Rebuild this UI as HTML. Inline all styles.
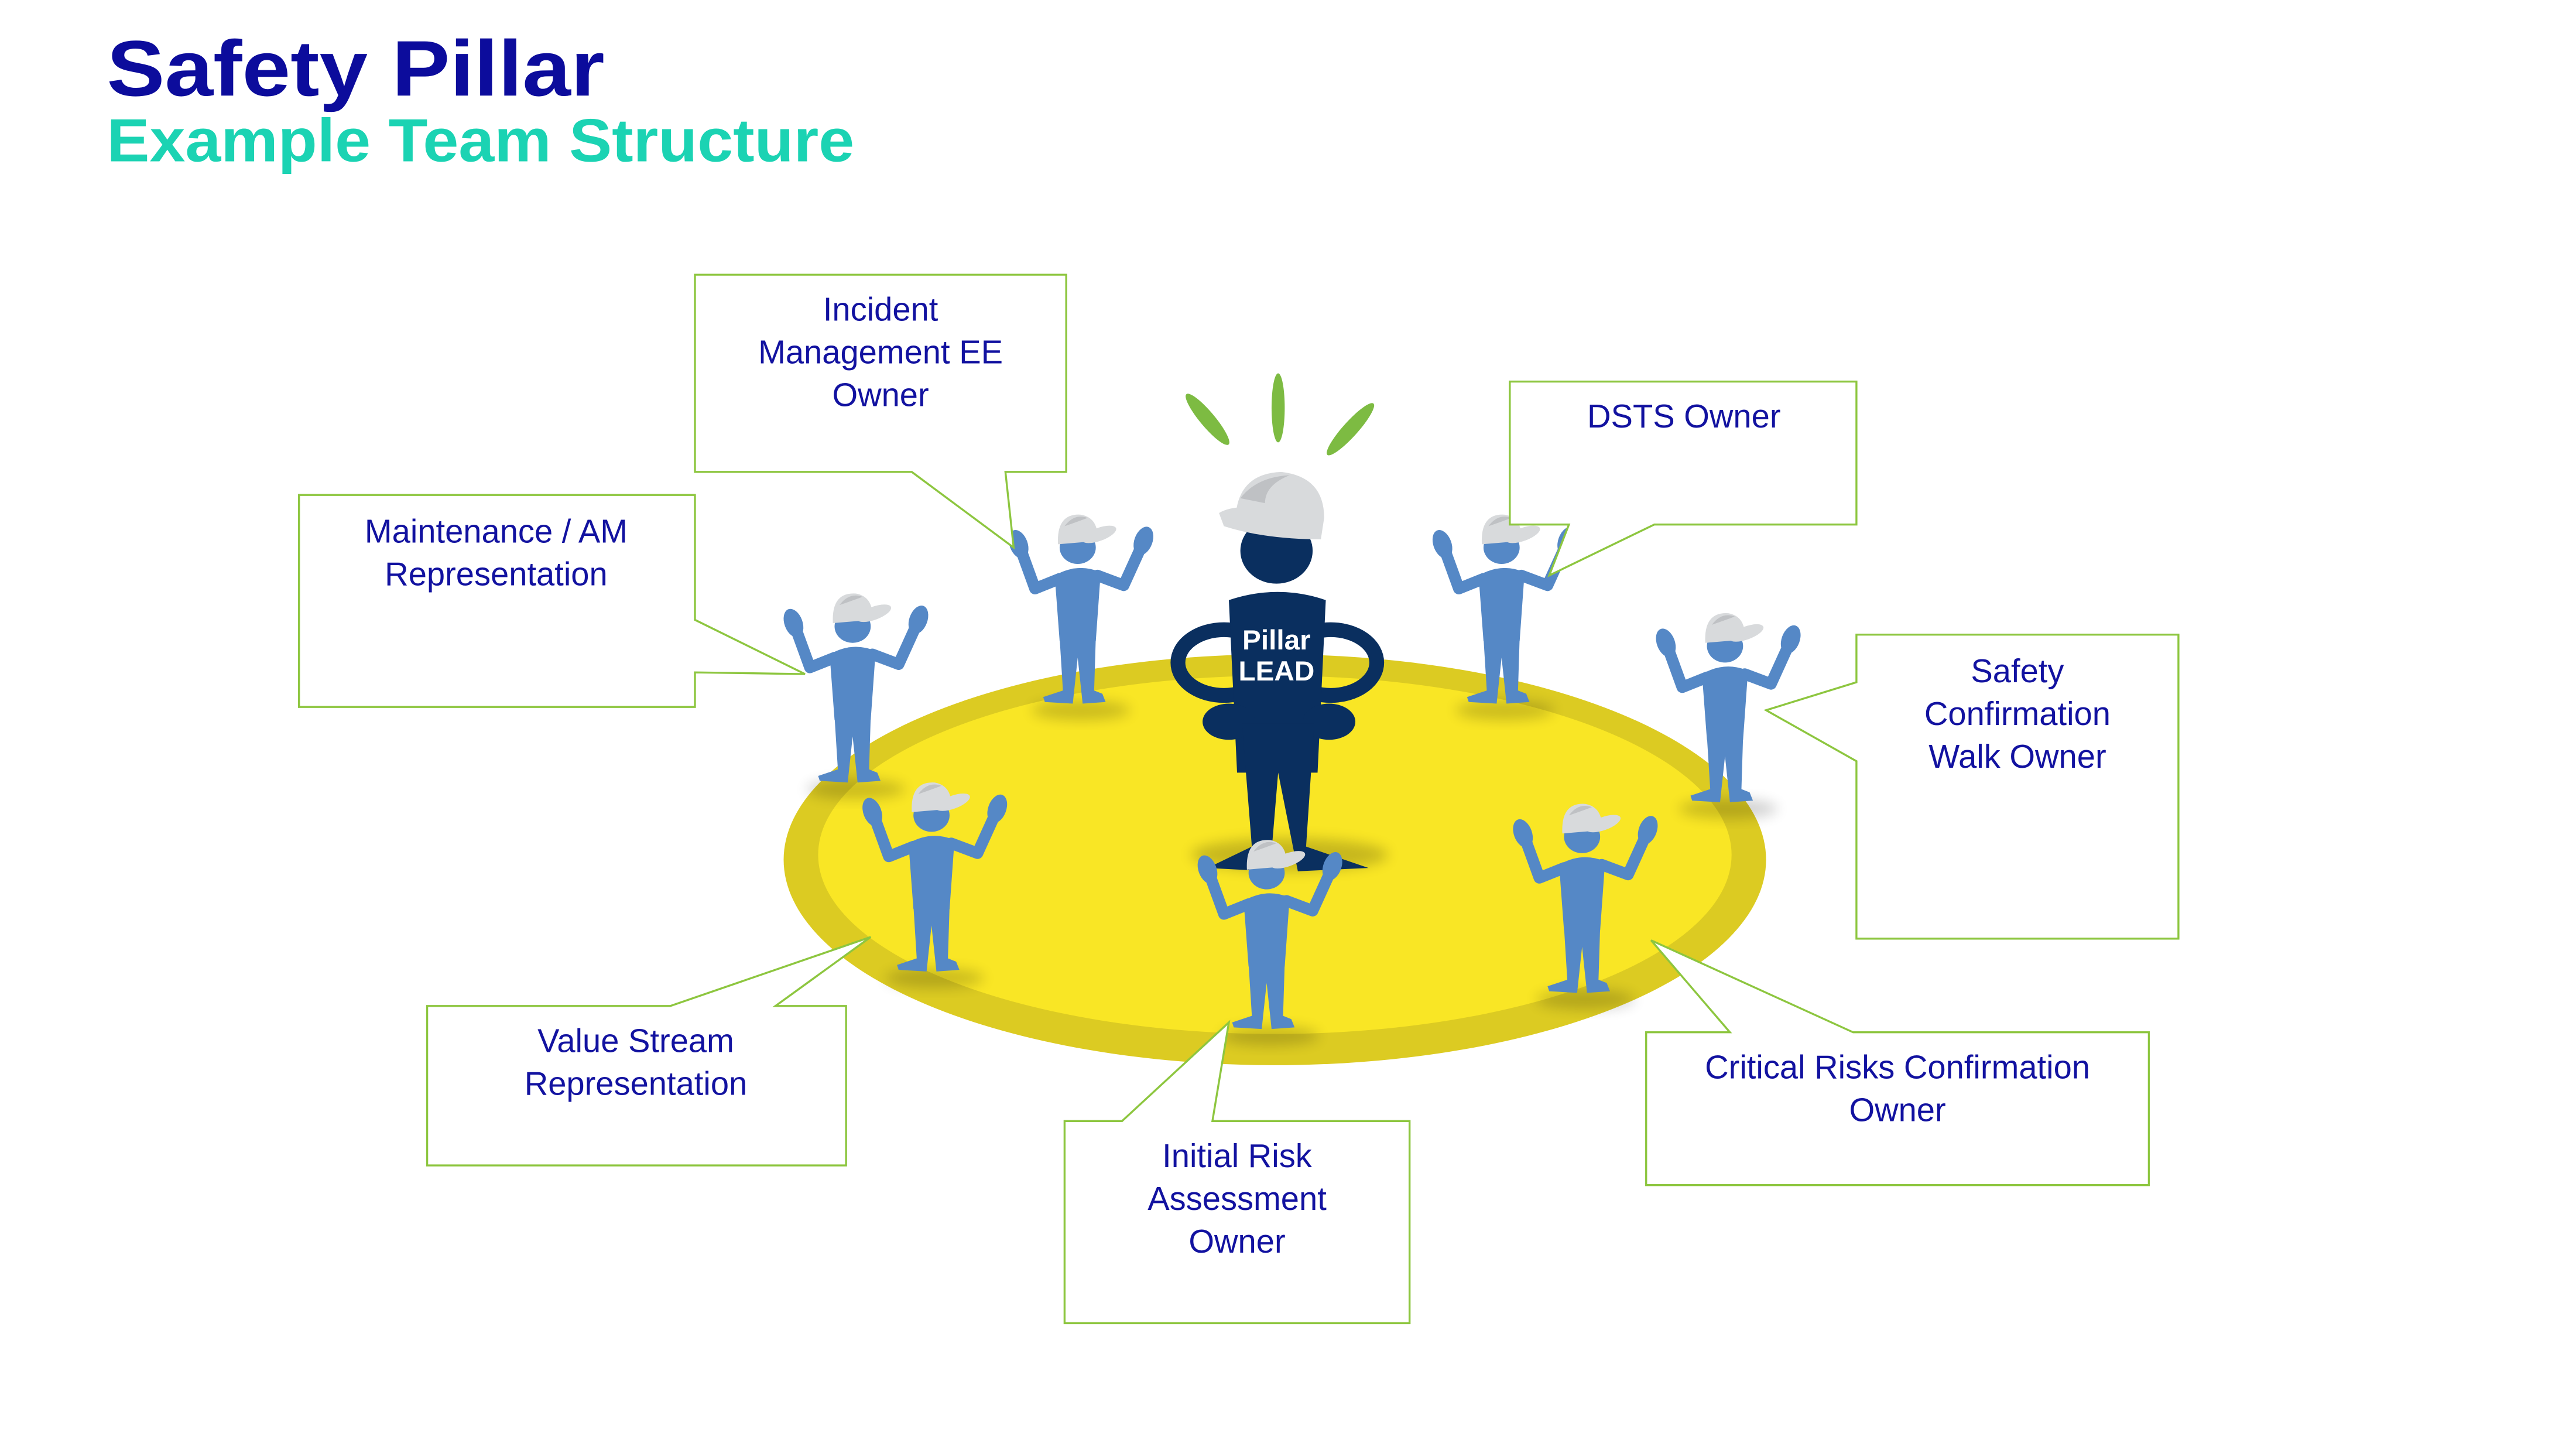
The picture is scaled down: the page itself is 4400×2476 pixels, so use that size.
<!DOCTYPE html>
<html><head><meta charset="utf-8">
<style>
html,body{margin:0;padding:0;background:#fff;}
svg{display:block;}
text{font-family:"Liberation Sans",Arial,sans-serif;}
</style></head>
<body>
<svg xmlns="http://www.w3.org/2000/svg" width="4400" height="2476" viewBox="0 0 1568 882">
<defs>
<filter id="bl" x="-50%" y="-50%" width="200%" height="200%"><feGaussianBlur stdDeviation="4"/></filter>
<g id="fig">
 <ellipse cx="2" cy="100" rx="30" ry="6" fill="#000" opacity="0.18" filter="url(#bl)"/>
 <path d="M-11,20 L-26,26 L-34,4 M12,18 L28,24 L38,2" stroke="#5588c6" stroke-width="7" fill="none" stroke-linecap="round" stroke-linejoin="round"/>
 <ellipse cx="-36" cy="-1" rx="5.5" ry="9" fill="#5588c6" transform="rotate(-20 -36 -1)"/>
 <ellipse cx="40" cy="-3" rx="5.5" ry="9" fill="#5588c6" transform="rotate(20 40 -3)"/>
 <ellipse cx="0" cy="1" rx="11" ry="10" fill="#5588c6"/>
 <path d="M-14,18 Q0,10 14,16 L11,58 L-11,58 Z" fill="#5588c6"/>
 <path d="M-11,56 L-9,88 L-21,92 L-20,95 L-3,96 L0,68 L3,96 L17,95 L15,90 L10,88 L11,56 Z" fill="#5588c6"/>
 <path d="M-12,-1 Q-13,-20 2,-19 Q13,-17 12,-3 Z" fill="#d8dadc"/>
 <path d="M-8,-12 Q-2,-20 6,-17 Q-2,-14 -8,-12 Z" fill="#bfc1c4"/>
 <ellipse cx="13" cy="-7" rx="11" ry="4" fill="#d8dadc" transform="rotate(-20 13 -7)"/>
</g>
</defs>

<text x="65" y="58" font-size="48" font-weight="bold" fill="#0c0c9c" textLength="303" lengthAdjust="spacingAndGlyphs">Safety Pillar</text>
<text x="65" y="98" font-size="37" font-weight="bold" fill="#1bd3b3" textLength="455" lengthAdjust="spacingAndGlyphs">Example Team Structure</text>

<ellipse cx="776" cy="523" rx="299" ry="125" fill="#dccb22"/>
<ellipse cx="776" cy="520" rx="278" ry="109" fill="#f9e625"/>

<ellipse cx="735" cy="255" rx="4.5" ry="20" fill="#7dbb42" transform="rotate(-40 735 255)"/>
<ellipse cx="778" cy="248" rx="4" ry="21" fill="#7dbb42"/>
<ellipse cx="822" cy="261" rx="4.5" ry="21" fill="#7dbb42" transform="rotate(42 822 261)"/>

<use href="#fig" x="519" y="380"/>
<use href="#fig" x="656" y="332"/>
<use href="#fig" x="914" y="332"/>
<use href="#fig" x="1050" y="392"/>

<ellipse cx="785" cy="520" rx="60" ry="10" fill="#000" opacity="0.2" filter="url(#bl)"/>
<ellipse cx="745" cy="403" rx="28" ry="20" fill="none" stroke="#0a2f5f" stroke-width="9"/>
<ellipse cx="810" cy="403" rx="28" ry="20" fill="none" stroke="#0a2f5f" stroke-width="9"/>
<path d="M748,365 Q778,355 807,365 L802,470 L753,470 Z" fill="#0a2f5f"/>
<ellipse cx="748" cy="439" rx="16" ry="11" fill="#0a2f5f"/>
<ellipse cx="809" cy="439" rx="16" ry="11" fill="#0a2f5f"/>
<path d="M756,440 L800,440 L795,515 L833,528 L790,530 L778,470 L773,530 L735,528 L762,515 Z" fill="#0a2f5f"/>
<ellipse cx="777" cy="335" rx="22" ry="20" fill="#0a2f5f"/>
<path d="M752,318 Q752,288 780,287 Q806,290 806,315 L804,328 Z" fill="#d8dadc"/>
<path d="M755,303 Q765,290 785,289 Q770,295 770,306 Z" fill="#bfc1c4"/>
<path d="M742,312 Q752,306 775,310 L804,318 L804,328 Q770,328 745,320 Z" fill="#d8dadc"/>
<text x="777" y="395" font-size="17" font-weight="bold" fill="#fff" text-anchor="middle">Pillar</text>
<text x="777" y="414" font-size="17" font-weight="bold" fill="#fff" text-anchor="middle">LEAD</text>

<use href="#fig" x="567" y="495"/>
<use href="#fig" x="963" y="508"/>
<use href="#fig" x="771" y="530"/>

<g fill="#fff" stroke="#8dc63f" stroke-width="1.2">
 <path d="M423,167 H649 V287 H612 L617,333 L555,287 H423 Z"/>
 <path d="M182,301 H423 V377 L490,410 L423,409 V430 H182 Z"/>
 <path d="M919,232 H1130 V319 H1007 L943,350 L955,319 H919 Z"/>
 <path d="M1130,386 H1326 V571 H1130 V463 L1075,432 L1130,415 Z"/>
 <path d="M260,612 H408 L530,570 L472,612 H515 V709 H260 Z"/>
 <path d="M648,682 H683 L748,622 L738,682 H858 V805 H648 Z"/>
 <path d="M1002,628 H1053 L1005,572 L1128,628 H1308 V721 H1002 Z"/>
</g>

<g font-size="20" fill="#1212a0" text-anchor="middle">
 <text x="536" y="195">Incident</text>
 <text x="536" y="221">Management EE</text>
 <text x="536" y="247">Owner</text>
 <text x="302" y="330">Maintenance / AM</text>
 <text x="302" y="356">Representation</text>
 <text x="1025" y="260">DSTS Owner</text>
 <text x="1228" y="415">Safety</text>
 <text x="1228" y="441">Confirmation</text>
 <text x="1228" y="467">Walk Owner</text>
 <text x="387" y="640">Value Stream</text>
 <text x="387" y="666">Representation</text>
 <text x="753" y="710">Initial Risk</text>
 <text x="753" y="736">Assessment</text>
 <text x="753" y="762">Owner</text>
 <text x="1155" y="656">Critical Risks Confirmation</text>
 <text x="1155" y="682">Owner</text>
</g>
</svg>
</body></html>
